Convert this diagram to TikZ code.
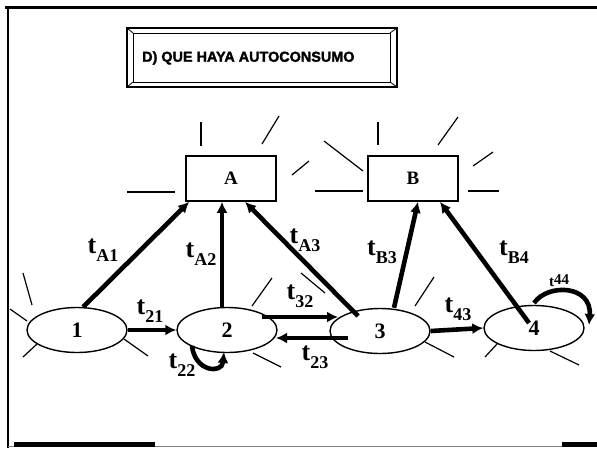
\documentclass[tikz,border=0pt]{standalone}
\usepackage{fontspec}
\setmainfont{Liberation Serif}
\newfontfamily\titlefont[BoldFeatures={FakeBold=2}]{Liberation Sans}
\usetikzlibrary{arrows.meta,shapes.geometric}
\newcommand\tlab[1]{t\raisebox{-0.3em}{\fontsize{18}{18}\selectfont #1}}
\begin{document}
\begin{tikzpicture}[x=1pt,y=-1pt,
  ell/.style={draw,ellipse,line width=1.4pt,minimum width=100pt,minimum height=45pt,inner sep=0pt,font=\fontsize{22}{22}\selectfont\bfseries},
  boxnode/.style={draw,rectangle,line width=1.6pt,minimum width=90pt,minimum height=45pt,inner sep=0pt,font=\fontsize{19}{19}\selectfont\bfseries},
  ray/.style={line width=1.2pt},
  flow/.style={line width=4.6pt,-{Latex[length=11pt,width=11pt]}},
  lab/.style={inner sep=0pt,font=\fontsize{26}{26}\selectfont\bfseries}]
\useasboundingbox (0,0) rectangle (597,448);
\fill[white] (0,0) rectangle (597,448);
% frame
\draw[line width=3pt] (5,7) -- (597,7);
\draw[line width=2.5pt] (8,7) -- (8,448);
\draw[line width=0.8pt,gray] (8,446.5) -- (597,446.5);
\fill[black] (14,442) rectangle (155,447);
\fill[black] (562,442) rectangle (597,447);
% title
\draw[line width=1.5pt] (127,28) rectangle (397,87);
\draw[line width=1pt] (133,33) rectangle (390,82);
\draw[line width=0.8pt] (127,28) -- (133,33) (397,28) -- (390,33) (127,87) -- (133,82) (397,87) -- (390,82);
\node[anchor=west,inner sep=0pt,font=\titlefont\bfseries\fontsize{14.4}{16}\selectfont] (title) at (142,58) {D) QUE HAYA AUTOCONSUMO};
% nodes
\node[boxnode] (A) at (231,178.5) {A};
\node[boxnode] (B) at (413,178.5) {B};
\node[ell] (n1) at (77,330) {1};
\node[ell] (n2) at (227,330) {2};
\node[ell] (n3) at (380,331) {3};
\node[ell] (n4) at (534,328) {4};
% rays around A
\draw[ray] (201,122) -- (201,146);
\draw[ray] (262,144) -- (279,116);
\draw[ray] (292,175) -- (309,161);
\draw[ray] (127,192) -- (175,192);
% rays around B
\draw[ray] (315,191) -- (363,191);
\draw[ray] (324,141) -- (363,171);
\draw[ray] (378,122) -- (378,145);
\draw[ray] (438,145) -- (458,117);
\draw[ray] (473,166) -- (493,152);
\draw[ray] (468,191) -- (499,191);
% rays around 1
\draw[ray] (23,273) -- (32,305);
\draw[ray] (10,309) -- (27,321);
\draw[ray] (23,357) -- (37,344);
\draw[ray] (124,339) -- (148,356);
% rays around 2
\draw[ray] (252,306) -- (272,278);
\draw[ray] (253,353) -- (281,367);
% rays around 3
\draw[ray] (301,273) -- (325,293);
\draw[ray] (415,306) -- (434,277);
\draw[ray] (425,342) -- (454,357);
% rays around 4
\draw[ray] (485,357) -- (497,344);
\draw[ray] (550,351) -- (579,365);
% flows
\draw[flow] (n1.75) -- ([xshift=4pt]A.south west);
\draw[flow,line width=3.4pt] ([xshift=-5pt]n2.north) -- ([xshift=-9pt]A.south);
\draw[flow] ([shift={(-22,-15)}]n3.center) -- ([xshift=14pt]A.south);
\draw[flow] ([xshift=14pt]n3.north) -- ([xshift=5pt]B.south);
\draw[flow] ([shift={(-5,-5)}]n4.center) -- ([xshift=27pt]B.south);
\draw[flow] (n1.east) -- (n2.west);
\draw[flow] ([shift={(35,-13)}]n2.center) -- ([shift={(-42,-14)}]n3.center);
\draw[flow] ([shift={(-32,7)}]n3.center) -- ([shift={(49,8)}]n2.center);
\draw[flow] (n3.east) -- (n4.west);
\draw[flow] ([shift={(-35,16)}]n2.center) .. controls +(3,26) and +(-2,22) .. ([shift={(-3,22)}]n2.center);
\draw[flow] ([shift={(0,-25)}]n4.center) .. controls +(14,-20) and +(3,-40) .. ([shift={(55,-3)}]n4.center);
% labels
\node[lab] (lA1) at (103,250) {\tlab{A1}};
\node[lab] (lA2) at (201,254) {\tlab{A2}};
\node[lab] (lA3) at (305,240) {\tlab{A3}};
\node[lab] (lB3) at (382,252) {\tlab{B3}};
\node[lab] (lB4) at (514,252) {\tlab{B4}};
\node[lab] (l21) at (150,311) {\tlab{21}};
\node[lab] (l22) at (182,365) {\tlab{22}};
\node[lab] (l32) at (300,296) {\tlab{32}};
\node[lab] (l23) at (315,357) {\tlab{23}};
\node[lab] (l43) at (458,309) {\tlab{43}};
\node[lab,anchor=west,font=\fontsize{15}{15}\selectfont\bfseries] (l44) at (549,281) {t\raisebox{0.15em}{44}};
\end{tikzpicture}
\end{document}
